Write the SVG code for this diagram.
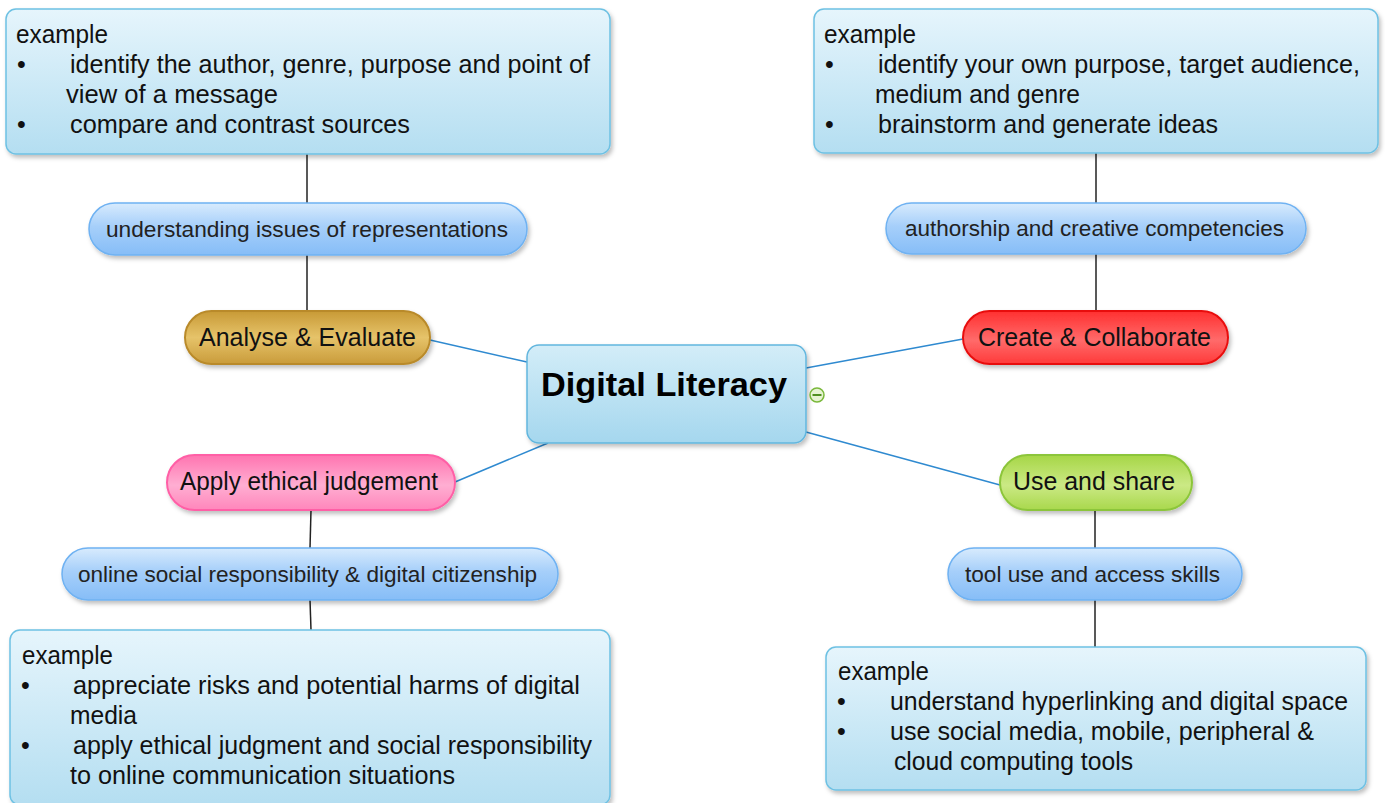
<svg xmlns="http://www.w3.org/2000/svg" width="1385" height="803" viewBox="0 0 1385 803">
<defs>
<linearGradient id="gBox" x1="0" y1="0" x2="0" y2="1">
<stop offset="0" stop-color="#e6f5fc"/><stop offset="1" stop-color="#b4def1"/>
</linearGradient>
<linearGradient id="gCenter" x1="0" y1="0" x2="0" y2="1">
<stop offset="0" stop-color="#d3edf8"/><stop offset="1" stop-color="#a5d7ee"/>
</linearGradient>
<linearGradient id="gPill" x1="0" y1="0" x2="0" y2="1">
<stop offset="0" stop-color="#d8ebfd"/><stop offset="0.45" stop-color="#a6cffa"/><stop offset="1" stop-color="#86bdf7"/>
</linearGradient>
<linearGradient id="gGold" x1="0" y1="0" x2="0" y2="1">
<stop offset="0" stop-color="#c89a36"/><stop offset="0.5" stop-color="#e6c36a"/><stop offset="1" stop-color="#c99b3a"/>
</linearGradient>
<linearGradient id="gRed" x1="0" y1="0" x2="0" y2="1">
<stop offset="0" stop-color="#ff3030"/><stop offset="0.55" stop-color="#ff6a6a"/><stop offset="1" stop-color="#ff3a3a"/>
</linearGradient>
<linearGradient id="gPink" x1="0" y1="0" x2="0" y2="1">
<stop offset="0" stop-color="#ff74b0"/><stop offset="0.55" stop-color="#ffaed2"/><stop offset="1" stop-color="#ff86bb"/>
</linearGradient>
<linearGradient id="gGreen" x1="0" y1="0" x2="0" y2="1">
<stop offset="0" stop-color="#a6d646"/><stop offset="0.55" stop-color="#cbe985"/><stop offset="1" stop-color="#a9d84c"/>
</linearGradient>
<filter id="sh" x="-10%" y="-20%" width="120%" height="150%">
<feDropShadow dx="2" dy="3" stdDeviation="2" flood-color="#000" flood-opacity="0.25"/>
</filter>
<style>
.box{fill:url(#gBox);stroke:#6ec1e3;stroke-width:1.5;filter:url(#sh)}
.pill{fill:url(#gPill);stroke:#6fb2f2;stroke-width:1.5;filter:url(#sh)}
.t{font-family:"Liberation Sans",Arial,sans-serif;fill:#111;font-size:25px}
.p{font-family:"Liberation Sans",Arial,sans-serif;fill:#222;font-size:22px}
.m{font-family:"Liberation Sans",Arial,sans-serif;fill:#111;font-size:25px}
.bl{stroke:#2f8ad0;stroke-width:1.5;fill:none}
.bk{stroke:#222;stroke-width:1.5;fill:none}
</style>
</defs>
<rect width="1385" height="803" fill="#ffffff"/>

<g id="connectors">
<line class="bk" x1="307" y1="154" x2="307" y2="203"/>
<line class="bk" x1="307" y1="255" x2="307" y2="311"/>
<line class="bk" x1="1096" y1="153" x2="1096" y2="203"/>
<line class="bk" x1="1096" y1="254" x2="1096" y2="311"/>
<line class="bk" x1="311" y1="510" x2="310" y2="548"/>
<line class="bk" x1="310" y1="600" x2="311" y2="630"/>
<line class="bk" x1="1095" y1="510" x2="1095" y2="548"/>
<line class="bk" x1="1095" y1="600" x2="1095" y2="647"/>
<line class="bl" x1="430" y1="340" x2="527" y2="362"/>
<line class="bl" x1="806" y1="368" x2="963" y2="339"/>
<line class="bl" x1="455" y1="482" x2="548" y2="443"/>
<line class="bl" x1="806" y1="432" x2="1000" y2="485"/>
</g>

<g id="ex-analyse">
<rect class="box" x="6" y="9" width="604" height="145" rx="10"/>
<text class="t" x="16" y="43" textLength="92" lengthAdjust="spacingAndGlyphs">example</text>
<text class="t" x="17" y="73">•</text>
<text class="t" x="70" y="73" textLength="520" lengthAdjust="spacingAndGlyphs">identify the author, genre, purpose and point of</text>
<text class="t" x="66" y="103" textLength="212" lengthAdjust="spacingAndGlyphs">view of a message</text>
<text class="t" x="17" y="133">•</text>
<text class="t" x="70" y="133" textLength="340" lengthAdjust="spacingAndGlyphs">compare and contrast sources</text>
</g>

<g id="ex-create">
<rect class="box" x="814" y="9" width="564" height="144" rx="10"/>
<text class="t" x="824" y="43" textLength="92" lengthAdjust="spacingAndGlyphs">example</text>
<text class="t" x="825" y="73">•</text>
<text class="t" x="878" y="73" textLength="482" lengthAdjust="spacingAndGlyphs">identify your own purpose, target audience,</text>
<text class="t" x="875" y="103" textLength="205" lengthAdjust="spacingAndGlyphs">medium and genre</text>
<text class="t" x="825" y="133">•</text>
<text class="t" x="878" y="133" textLength="340" lengthAdjust="spacingAndGlyphs">brainstorm and generate ideas</text>
</g>

<g id="ex-apply">
<rect class="box" x="10" y="630" width="600" height="175" rx="10"/>
<text class="t" x="22" y="664" textLength="91" lengthAdjust="spacingAndGlyphs">example</text>
<text class="t" x="21" y="694">•</text>
<text class="t" x="73" y="694" textLength="507" lengthAdjust="spacingAndGlyphs">appreciate risks and potential harms of digital</text>
<text class="t" x="70" y="724" textLength="67" lengthAdjust="spacingAndGlyphs">media</text>
<text class="t" x="21" y="754">•</text>
<text class="t" x="73" y="754" textLength="519" lengthAdjust="spacingAndGlyphs">apply ethical judgment and social responsibility</text>
<text class="t" x="70" y="784" textLength="385" lengthAdjust="spacingAndGlyphs">to online communication situations</text>
</g>

<g id="ex-use">
<rect class="box" x="826" y="647" width="540" height="143" rx="10"/>
<text class="t" x="838" y="680" textLength="91" lengthAdjust="spacingAndGlyphs">example</text>
<text class="t" x="837" y="710">•</text>
<text class="t" x="890" y="710" textLength="458" lengthAdjust="spacingAndGlyphs">understand hyperlinking and digital space</text>
<text class="t" x="837" y="740">•</text>
<text class="t" x="890" y="740" textLength="424" lengthAdjust="spacingAndGlyphs">use social media, mobile, peripheral &amp;</text>
<text class="t" x="894" y="770" textLength="239" lengthAdjust="spacingAndGlyphs">cloud computing tools</text>
</g>

<g id="pill-representations">
<rect class="pill" x="89" y="203" width="438" height="52" rx="26"/>
<text class="p" x="106" y="237" textLength="402" lengthAdjust="spacingAndGlyphs">understanding issues of representations</text>
</g>
<g id="pill-authorship">
<rect class="pill" x="886" y="203" width="420" height="51" rx="25.5"/>
<text class="p" x="905" y="236" textLength="379" lengthAdjust="spacingAndGlyphs">authorship and creative competencies</text>
</g>
<g id="pill-citizenship">
<rect class="pill" x="62" y="548" width="496" height="52" rx="26"/>
<text class="p" x="78" y="582" textLength="459" lengthAdjust="spacingAndGlyphs">online social responsibility &amp; digital citizenship</text>
</g>
<g id="pill-tools">
<rect class="pill" x="948" y="548" width="294" height="52" rx="26"/>
<text class="p" x="965" y="582" textLength="255" lengthAdjust="spacingAndGlyphs">tool use and access skills</text>
</g>

<g id="node-analyse">
<rect x="185" y="311" width="245" height="53" rx="26.5" fill="url(#gGold)" stroke="#b98a2a" stroke-width="2" filter="url(#sh)"/>
<text class="m" x="199" y="346" textLength="217" lengthAdjust="spacingAndGlyphs">Analyse &amp; Evaluate</text>
</g>
<g id="node-create">
<rect x="963" y="311" width="265" height="53" rx="26.5" fill="url(#gRed)" stroke="#e81010" stroke-width="2" filter="url(#sh)"/>
<text class="m" x="978" y="346" textLength="233" lengthAdjust="spacingAndGlyphs">Create &amp; Collaborate</text>
</g>
<g id="node-apply">
<rect x="167" y="455" width="288" height="55" rx="27.5" fill="url(#gPink)" stroke="#ff5fa6" stroke-width="2" filter="url(#sh)"/>
<text class="m" x="180" y="490" textLength="258" lengthAdjust="spacingAndGlyphs">Apply ethical judgement</text>
</g>
<g id="node-use">
<rect x="1000" y="455" width="192" height="55" rx="27.5" fill="url(#gGreen)" stroke="#8cc53a" stroke-width="2" filter="url(#sh)"/>
<text class="m" x="1013" y="490" textLength="162" lengthAdjust="spacingAndGlyphs">Use and share</text>
</g>

<g id="node-center">
<rect x="527" y="345" width="279" height="98" rx="12" fill="url(#gCenter)" stroke="#62b6de" stroke-width="1.5" filter="url(#sh)"/>
<text x="541" y="396" font-family="Liberation Sans,Arial,sans-serif" font-weight="bold" font-size="34" fill="#000" textLength="246" lengthAdjust="spacingAndGlyphs">Digital Literacy</text>
<circle cx="817" cy="395" r="7" fill="#e6f3d2" stroke="#79b83a" stroke-width="1.5"/>
<line x1="812.5" y1="395" x2="821.5" y2="395" stroke="#4f8f20" stroke-width="2"/>
</g>
</svg>
